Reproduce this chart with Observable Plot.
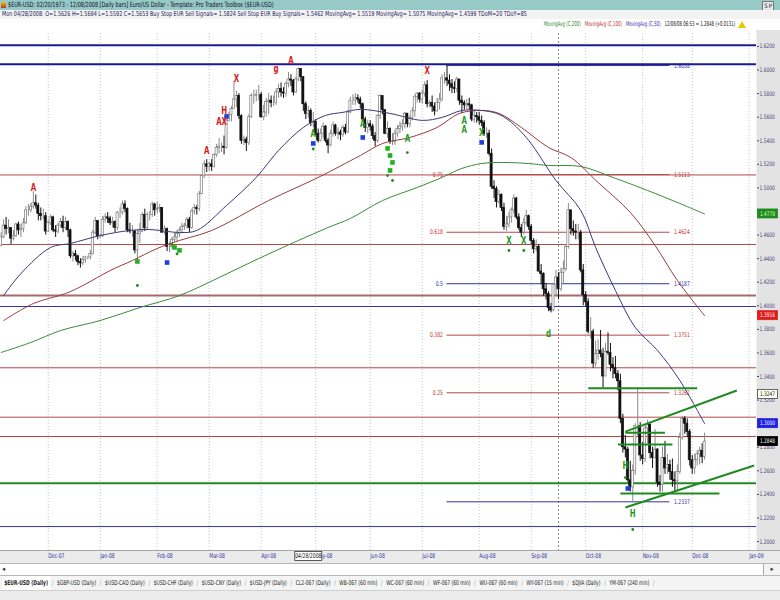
<!DOCTYPE html>
<html>
<head>
<meta charset="utf-8">
<script src="https://cdn.jsdelivr.net/npm/d3@7"></script>
<script src="https://cdn.jsdelivr.net/npm/@observablehq/plot@0.6"></script>
<style>
html,body{margin:0;padding:0;background:#efefef;}
#wrap{position:relative;width:780px;height:600px;overflow:hidden;background:#efefef;
 font-family:"Liberation Sans Narrow","Arial Narrow","DejaVu Sans Condensed",sans-serif;}
.abs{position:absolute;white-space:nowrap;overflow:hidden;}
#title{left:0;top:0;width:780px;height:10px;background:#97c9c6;}
#title .t{position:absolute;left:8px;top:0;font-size:7.2px;line-height:10px;color:#0c0c28;transform:scaleX(0.76);transform-origin:0 50%;}
#title .ic{position:absolute;left:1px;top:2px;width:5px;height:6px;background:linear-gradient(#f0c020,#c03020);}
#title .sp{position:absolute;right:6px;top:1px;font-size:6px;line-height:8px;color:#222;border:1px solid #777;padding:0 1px;background:#e8e8e8;}
#info{left:0;top:10px;width:780px;height:9px;background:#f3f3f3;}
#info .t{position:absolute;left:2px;top:0;font-size:6.8px;line-height:9px;color:#22225a;transform:scaleX(0.80);transform-origin:0 50%;}
#legend{left:0;top:19px;width:780px;height:11px;background:#fff;font-size:6.6px;line-height:11px;}
#legend .items{position:absolute;right:45px;top:0;transform:scaleX(0.66);transform-origin:100% 50%;}
#legend .tri{position:absolute;left:738px;top:2px;width:0;height:0;border-left:4px solid transparent;border-right:4px solid transparent;border-bottom:7px solid #e8c800;}
#chart{left:0;top:30px;overflow:visible;}
#scroll{left:0;top:563px;width:780px;height:13px;background:#fff;border-top:1px solid #b8b8b8;border-bottom:1px solid #b8b8b8;box-sizing:border-box;font-size:7px;line-height:11px;color:#333;}
#scroll .l{position:absolute;left:2px;top:0;}
#scroll .r{position:absolute;right:0;top:0;width:16px;height:11px;border-left:1px solid #aaa;text-align:center;background:#f4f4f4;}
#tabs{left:0;top:576px;width:780px;height:14px;background:#f4f4f4;}
#tabs .in{position:absolute;left:2px;top:0;display:flex;font-size:6.7px;line-height:14px;color:#222;transform:scaleX(0.74);transform-origin:0 50%;}
#tabs .tab{padding:0 3px 0 3px;}
#tabs .tab.on{font-weight:bold;background:#fff;}
#tabs .sep{color:#999;padding:0 2px;}
#bottom{left:0;top:590px;width:780px;height:10px;background:#ececec;border-top:1px solid #d0d0d0;box-sizing:border-box;}
</style>
</head>
<body>
<div id="wrap">
  <div id="title" class="abs"><div class="ic"></div><span class="t"></span><span class="sp">S&#8201;P</span></div>
  <div id="info" class="abs"><span class="t"></span></div>
  <div id="legend" class="abs"><span class="items"></span><div class="tri"></div></div>
  <div id="chart" class="abs"></div>
  <div id="scroll" class="abs"><span class="l">&#9666;</span><span class="r">&#9656;</span></div>
  <div id="tabs" class="abs"><div class="in"></div></div>
  <div id="bottom" class="abs"></div>
</div>
<script>
// ---------------- DATA ----------------
const titleText = "$EUR-USD:  02/20/1973 - 12/08/2008  [Daily bars]   Euro/US Dollar  -  Template: Pro Traders Toolbox ($EUR-USD)";
const infoText = "Mon 04/28/2008:  O=1.5626  H=1.5694  L=1.5592  C=1.5653  Buy Stop EUR Sell Signals= 1.5824  Sell Stop EUR Buy Signals= 1.5462  MovingAvg= 1.5519  MovingAvg= 1.5075  MovingAvg= 1.4599  TDoM=20  TDoY=85";
const legendNames = ["MovingAvg (C,200)", "MovingAvg (C,100)", "MovingAvg (C,50)", "12/08/08 06:53 = 1.2848 (+0.0131)"];
const legendKinds = ["ma200", "ma100", "ma50", "last"];
const tabNames = ["$EUR-USD (Daily)", "$GBP-USD (Daily)", "$USD-CAD (Daily)", "$USD-CHF (Daily)", "$USD-CNY (Daily)", "$USD-JPY (Daily)", "CL2-067 (Daily)", "WB-067 (60 min)", "WC-067 (60 min)", "WF-067 (60 min)", "WU-067 (60 min)", "WY-067 (15 min)", "$DJIA (Daily)", "YM-067 (240 min)"];

// daily bars, one per weekday starting 2007-11-06
const startDay = "2007-11-06";
const endDay = "2009-01-12";
const firstOpen = 1.4510;
const highs = [
  // Nov 07
  1.4620,1.4730,1.4750,1.4730,1.4660,1.4640,1.4700,1.4710,1.4690,1.4740,1.4840,1.4860,1.4870,1.4967,1.4940,1.4870,1.4830,1.4820,1.4790,
  // Dec 07
  1.4720,1.4770,1.4760,1.4680,1.4700,1.4740,1.4760,1.4750,1.4720,1.4650,1.4460,1.4470,1.4430,1.4400,1.4420,1.4420,1.4420,1.4470,1.4640,1.4750,1.4720,
  // Jan 08
  1.4610,1.4760,1.4780,1.4790,1.4760,1.4750,1.4720,1.4800,1.4830,1.4890,1.4890,1.4830,1.4700,1.4680,1.4640,1.4640,1.4700,1.4790,1.4820,1.4790,1.4800,1.4880,1.4870,
  // Feb 08
  1.4880,1.4860,1.4830,1.4680,1.4660,1.4540,1.4580,1.4620,1.4640,1.4660,1.4700,1.4700,1.4750,1.4750,1.4820,1.4860,1.4850,1.4970,1.5110,1.5230,1.5240,
  // Mar 08
  1.5220,1.5240,1.5290,1.5370,1.5420,1.5380,1.5440,1.5580,1.5640,1.5690,1.5904,1.5820,1.5800,1.5620,1.5440,1.5430,1.5620,1.5800,1.5830,1.5830,1.5870,
  // Apr 08
  1.5810,1.5700,1.5760,1.5800,1.5780,1.5780,1.5840,1.5880,1.5890,1.5850,1.5900,1.5980,1.5960,1.5920,1.5940,1.6019,1.6000,1.5940,1.5730,1.5694,1.5670,1.5640,
  // May 08
  1.5580,1.5500,1.5500,1.5550,1.5530,1.5420,1.5490,1.5560,1.5540,1.5510,1.5490,1.5530,1.5540,1.5660,1.5770,1.5790,1.5800,1.5790,1.5770,1.5720,1.5600,1.5570,
  // Jun 08
  1.5570,1.5540,1.5470,1.5620,1.5790,1.5780,1.5660,1.5560,1.5510,1.5460,1.5490,1.5530,1.5560,1.5580,1.5640,1.5630,1.5610,1.5680,1.5790,1.5810,1.5810,
  // Jul 08
  1.5830,1.5900,1.5910,1.5740,1.5780,1.5720,1.5760,1.5800,1.5960,1.5980,1.6038,1.5960,1.5920,1.5900,1.5940,1.5920,1.5780,1.5740,1.5750,1.5760,1.5710,1.5650,1.5640,
  // Aug 08
  1.5640,1.5610,1.5570,1.5510,1.5490,1.5330,1.5060,1.5010,1.4980,1.4950,1.4870,1.4760,1.4790,1.4830,1.4940,1.4920,1.4780,1.4690,1.4740,1.4810,1.4770,
  // Sep 08
  1.4690,1.4570,1.4560,1.4520,1.4350,1.4280,1.4190,1.4120,1.4020,1.4190,1.4300,1.4280,1.4320,1.4380,1.4520,1.4867,1.4800,1.4720,1.4690,1.4690,1.4640,1.4350,
  // Oct 08
  1.4120,1.4060,1.3900,1.3800,1.3700,1.3710,1.3790,1.3640,1.3680,1.3770,1.3680,1.3560,1.3570,1.3450,1.3420,1.3080,1.2900,1.2800,1.2680,1.2650,1.3000,1.3300,1.3010,
  // Nov 08
  1.2840,1.2990,1.3030,1.3000,1.2800,1.2950,1.2790,1.2560,1.2800,1.2850,1.2740,1.2690,1.2700,1.2590,1.2650,1.2920,1.3060,1.3060,1.3040,1.2950,
  // Dec 08
  1.2730,1.2740,1.2770,1.2800,1.2830,1.2920
];
const lows = [
  1.4500,1.4570,1.4600,1.4610,1.4520,1.4550,1.4580,1.4600,1.4580,1.4620,1.4690,1.4760,1.4790,1.4820,1.4820,1.4720,1.4720,1.4730,1.4600,
  1.4620,1.4680,1.4620,1.4580,1.4610,1.4660,1.4620,1.4640,1.4580,1.4400,1.4370,1.4380,1.4340,1.4320,1.4340,1.4360,1.4390,1.4390,1.4430,1.4600,1.4560,
  1.4570,1.4580,1.4700,1.4700,1.4680,1.4660,1.4620,1.4640,1.4740,1.4770,1.4790,1.4620,1.4610,1.4580,1.4440,1.4370,1.4530,1.4620,1.4630,1.4640,1.4720,1.4750,1.4760,
  1.4780,1.4790,1.4620,1.4600,1.4460,1.4450,1.4480,1.4540,1.4540,1.4580,1.4610,1.4640,1.4650,1.4620,1.4650,1.4770,1.4770,1.4800,1.4940,1.5080,1.5130,
  1.5140,1.5140,1.5170,1.5260,1.5290,1.5300,1.5280,1.5330,1.5560,1.5560,1.5680,1.5680,1.5580,1.5370,1.5360,1.5310,1.5360,1.5590,1.5710,1.5730,1.5740,
  1.5590,1.5570,1.5600,1.5620,1.5680,1.5690,1.5700,1.5760,1.5770,1.5760,1.5770,1.5850,1.5860,1.5780,1.5800,1.5900,1.5900,1.5650,1.5580,1.5592,1.5520,1.5510,
  1.5440,1.5380,1.5390,1.5420,1.5380,1.5290,1.5350,1.5430,1.5440,1.5410,1.5400,1.5430,1.5450,1.5460,1.5630,1.5700,1.5700,1.5720,1.5670,1.5560,1.5470,1.5460,
  1.5480,1.5410,1.5350,1.5380,1.5580,1.5620,1.5450,1.5420,1.5370,1.5360,1.5360,1.5430,1.5460,1.5480,1.5500,1.5510,1.5510,1.5570,1.5600,1.5720,1.5720,
  1.5710,1.5770,1.5680,1.5680,1.5640,1.5610,1.5640,1.5660,1.5730,1.5880,1.5860,1.5820,1.5800,1.5800,1.5810,1.5700,1.5630,1.5660,1.5660,1.5660,1.5560,1.5550,1.5550,
  1.5530,1.5520,1.5440,1.5420,1.5270,1.4990,1.4910,1.4830,1.4860,1.4800,1.4640,1.4630,1.4660,1.4700,1.4780,1.4730,1.4640,1.4580,1.4600,1.4680,1.4640,
  1.4520,1.4440,1.4460,1.4290,1.4180,1.4080,1.4050,1.3950,1.3940,1.3950,1.4080,1.4050,1.4120,1.4180,1.4290,1.4480,1.4600,1.4590,1.4560,1.4560,1.4280,1.4000,
  1.3990,1.3760,1.3720,1.3470,1.3480,1.3540,1.3560,1.3300,1.3400,1.3580,1.3440,1.3380,1.3380,1.3280,1.3000,1.2750,1.2710,1.2500,1.2420,1.2330,1.2560,1.2880,1.2680,
  1.2650,1.2670,1.2830,1.2700,1.2620,1.2700,1.2460,1.2420,1.2420,1.2570,1.2570,1.2520,1.2460,1.2420,1.2430,1.2570,1.2860,1.2910,1.2880,1.2640,
  1.2570,1.2570,1.2640,1.2650,1.2660,1.2690
];
const closes = [
  1.4580,1.4680,1.4650,1.4660,1.4570,1.4590,1.4690,1.4640,1.4650,1.4700,1.4810,1.4810,1.4840,1.4870,1.4850,1.4780,1.4760,1.4760,1.4630,
  1.4700,1.4750,1.4640,1.4630,1.4680,1.4710,1.4660,1.4710,1.4640,1.4420,1.4440,1.4420,1.4370,1.4360,1.4390,1.4410,1.4410,1.4440,1.4620,1.4720,1.4590,
  1.4590,1.4730,1.4750,1.4740,1.4700,1.4710,1.4660,1.4790,1.4790,1.4860,1.4820,1.4640,1.4630,1.4630,1.4470,1.4610,1.4630,1.4770,1.4660,1.4770,1.4770,1.4860,1.4810,
  1.4820,1.4830,1.4620,1.4650,1.4500,1.4500,1.4560,1.4580,1.4610,1.4640,1.4670,1.4680,1.4730,1.4660,1.4800,1.4830,1.4820,1.4950,1.5100,1.5200,1.5180,
  1.5200,1.5180,1.5280,1.5340,1.5350,1.5350,1.5340,1.5570,1.5620,1.5670,1.5750,1.5780,1.5610,1.5400,1.5410,1.5380,1.5600,1.5780,1.5780,1.5790,1.5790,
  1.5600,1.5640,1.5730,1.5740,1.5720,1.5720,1.5810,1.5840,1.5810,1.5800,1.5880,1.5920,1.5910,1.5810,1.5920,1.6010,1.5940,1.5710,1.5626,1.5653,1.5550,1.5560,
  1.5460,1.5400,1.5460,1.5520,1.5400,1.5360,1.5460,1.5530,1.5460,1.5470,1.5450,1.5510,1.5470,1.5640,1.5740,1.5740,1.5760,1.5750,1.5710,1.5580,1.5510,1.5540,
  1.5520,1.5440,1.5400,1.5610,1.5780,1.5660,1.5460,1.5500,1.5390,1.5390,1.5460,1.5500,1.5520,1.5540,1.5630,1.5540,1.5590,1.5650,1.5770,1.5800,1.5750,
  1.5800,1.5870,1.5710,1.5720,1.5690,1.5650,1.5720,1.5750,1.5930,1.5930,1.5910,1.5880,1.5850,1.5840,1.5920,1.5740,1.5720,1.5700,1.5710,1.5700,1.5580,1.5610,1.5600,
  1.5570,1.5550,1.5460,1.5460,1.5290,1.5010,1.4990,1.4880,1.4940,1.4830,1.4670,1.4690,1.4750,1.4810,1.4910,1.4750,1.4660,1.4620,1.4700,1.4760,1.4670,
  1.4550,1.4480,1.4500,1.4290,1.4270,1.4140,1.4100,1.3980,1.3960,1.4180,1.4240,1.4140,1.4280,1.4310,1.4500,1.4810,1.4650,1.4630,1.4620,1.4620,1.4300,1.4090,
  1.4030,1.3780,1.3780,1.3510,1.3590,1.3620,1.3590,1.3400,1.3610,1.3600,1.3500,1.3470,1.3420,1.3360,1.3040,1.2800,1.2780,1.2520,1.2460,1.2600,1.2980,1.2980,1.2730,
  1.2700,1.2960,1.2990,1.2750,1.2710,1.2780,1.2500,1.2480,1.2710,1.2620,1.2650,1.2590,1.2520,1.2510,1.2590,1.2880,1.3040,1.3000,1.2930,1.2690,
  1.2620,1.2690,1.2740,1.2770,1.2717,1.2848
];

// moving averages: [date, value]
const ma200 = [["2007-11-06",1.3604],["2007-11-22",1.3689],["2007-12-10",1.3790],["2008-01-01",1.3875],["2008-01-23",1.3985],["2008-02-14",1.4087],["2008-03-07",1.4240],["2008-03-31",1.4401],["2008-04-22",1.4554],["2008-05-08",1.4664],["2008-05-21",1.4741],["2008-06-09",1.4893],["2008-06-27",1.5004],["2008-07-11",1.5089],["2008-07-23",1.5165],["2008-08-04",1.5207],["2008-08-15",1.5216],["2008-08-29",1.5207],["2008-09-10",1.5190],["2008-09-29",1.5182],["2008-10-16",1.5089],["2008-11-05",1.4978],["2008-11-24",1.4868],["2008-12-08",1.4779]];
const ma100 = [["2007-11-07",1.3875],["2007-11-23",1.4019],["2007-12-12",1.4104],["2007-12-21",1.4172],["2008-01-07",1.4299],["2008-01-18",1.4384],["2008-02-01",1.4486],["2008-02-14",1.4554],["2008-03-04",1.4639],["2008-04-04",1.4893],["2008-05-02",1.5089],["2008-05-27",1.5275],["2008-06-09",1.5377],["2008-06-24",1.5428],["2008-07-09",1.5513],["2008-07-22",1.5632],["2008-08-04",1.5657],["2008-08-13",1.5632],["2008-08-26",1.5513],["2008-09-10",1.5343],["2008-09-23",1.5258],["2008-10-08",1.5046],["2008-10-27",1.4792],["2008-11-10",1.4512],["2008-11-21",1.4215],["2008-12-08",1.3916]];
const ma50 = [["2007-11-07",1.4087],["2007-11-16",1.4274],["2007-12-04",1.4495],["2007-12-14",1.4529],["2008-01-01",1.4596],["2008-01-17",1.4639],["2008-01-29",1.4647],["2008-02-14",1.4622],["2008-02-25",1.4639],["2008-03-12",1.4851],["2008-03-28",1.5089],["2008-04-10",1.5318],["2008-04-24",1.5513],["2008-05-07",1.5615],["2008-05-16",1.5641],["2008-05-27",1.5666],["2008-06-12",1.5632],["2008-07-01",1.5573],["2008-07-11",1.5598],["2008-07-23",1.5657],["2008-08-04",1.5657],["2008-08-12",1.5632],["2008-08-19",1.5573],["2008-08-29",1.5402],["2008-09-15",1.5063],["2008-09-29",1.4809],["2008-10-07",1.4495],["2008-10-17",1.4130],["2008-10-29",1.3816],["2008-11-11",1.3621],["2008-11-24",1.3366],["2008-12-08",1.3000]];

// horizontal levels across the chart
const hLevels = [1.6211, 1.6050, 1.5110, 1.4520, 1.4087, 1.3994, 1.3474, 1.3055, 1.2891, 1.2495, 1.2127];
const hKinds  = ["blueMajor","blueMajor","red","red","brown","blue","red","red","red","green","blue"];

// Fibonacci retracement (Jul 15 high to Oct 28 low)
const fibStart = "2008-07-15", fibEnd = "2008-11-18";
const fibValues = [1.6038, 1.5113, 1.4624, 1.4187, 1.3751, 1.3262, 1.2337];
const fibRatios = ["", "0.75", "0.618", "0.5", "0.382", "0.25", ""];
const fibKinds  = ["blue","red","red","blue","red","red","blue"];

// green support / resistance segments and channel
const greenSegs = [["2008-10-02","2008-12-03",1.3300],["2008-10-23","2008-11-14",1.2922],["2008-10-20","2008-11-19",1.2823],["2008-10-21","2008-12-16",1.2407]];
const channel = [["2008-10-23",1.2933,"2008-12-25",1.3281],["2008-10-23",1.2289,"2009-01-05",1.2645]];

// signal markers
const redMarks = [["2007-11-23",1.5004,"A"],["2008-02-29",1.5312,"A"],["2008-03-11",1.5657,"H"],["2008-03-10",1.5560,"AX"],["2008-03-18",1.5928,"X"],["2008-04-09",1.6013,"g"],["2008-04-17",1.6081,"A"],["2008-07-03",1.5996,"X"]];
const greenMarks = [["2008-04-30",1.5462,"A"],["2008-05-28",1.5547,"A"],["2008-06-23",1.5420,"A"],["2008-07-24",1.5573,"A"],["2008-07-24",1.5490,"A"],["2008-08-04",1.5470,"X"],["2008-08-19",1.4554,"X"],["2008-08-27",1.4554,"X"],["2008-09-10",1.3765,"d"],["2008-10-23",1.2645,"H"],["2008-10-28",1.2238,"H"]];
const greenSquares = [["2008-01-22",1.4376],["2008-02-12",1.4495],["2008-02-14",1.4470],["2008-06-11",1.5335],["2008-06-12",1.5275],["2008-06-13",1.5216],["2008-06-12",1.5148]];
const greenDots = [["2008-01-22",1.4172],["2008-02-11",1.4520],["2008-02-13",1.4440],["2008-04-30",1.5330],["2008-06-11",1.5105],["2008-06-13",1.5063],["2008-06-23",1.5300],["2008-08-19",1.4469],["2008-08-27",1.4469],["2008-10-23",1.2543],["2008-10-28",1.2102]];
const blueSquares = [["2008-02-07",1.4367],["2008-03-12",1.5606],["2008-04-30",1.5377],["2008-05-28",1.5428],["2008-08-04",1.5386],["2008-10-24",1.2450]];

// axes
const yTicks = [1.20,1.22,1.24,1.26,1.28,1.32,1.34,1.36,1.38,1.40,1.42,1.44,1.46,1.50,1.52,1.54,1.56,1.58,1.60,1.62];
const monthLabels = ["Dec-07","Jan-08","Feb-08","Mar-08","Apr-08","May-08","Jun-08","Jul-08","Aug-08","Sep-08","Oct-08","Nov-08","Dec-08","Jan-09"];
const monthStarts = ["2007-12-01","2008-01-01","2008-02-01","2008-03-01","2008-04-01","2008-05-01","2008-06-01","2008-07-01","2008-08-01","2008-09-01","2008-10-01","2008-11-01","2008-12-01","2009-01-01"];
const markerDay = "2008-09-16";
const cursorDay = "2008-04-28", cursorLabel = "04/28/2008";

// value boxes on the price axis
const boxValues = [1.4779, 1.3916, 1.3247, 1.3000, 1.2848];
const boxKinds  = ["ma200", "ma100", "signal", "ma50", "last"];

// ---------------- STYLES ----------------
const FONT = '"Liberation Sans Narrow","Arial Narrow","DejaVu Sans Condensed",sans-serif';
const NARROW = 0.78;
const lineStyle = {
  blueMajor: {c: "#1b1b8e", w: 2},
  blue: {c: "#34349a", w: 1},
  red: {c: "#b44848", w: 1},
  brown: {c: "#a86a6a", w: 2},
  green: {c: "#1f8a1f", w: 2}
};
const labelColor = {blue: "#2c2ca8", red: "#c83232"};
const boxStyle = {
  ma200: {bg: "#1f8a1f", fg: "#d8ffb0", bd: "#1f8a1f"},
  ma100: {bg: "#e01c1c", fg: "#ffffff", bd: "#e01c1c"},
  signal: {bg: "#fffff0", fg: "#111111", bd: "#444444"},
  ma50: {bg: "#2020e0", fg: "#ffffff", bd: "#2020e0"},
  last: {bg: "#000000", fg: "#ffffff", bd: "#000000"}
};
const legendColor = {ma200: "#2a8a2a", ma100: "#c03030", ma50: "#3030b0", last: "#111"};

// ---------------- HEADER / FOOTER ----------------
document.querySelector("#title .t").textContent = titleText;
document.querySelector("#info .t").textContent = infoText;
const items = document.querySelector("#legend .items");
legendNames.forEach((n, i) => {
  const s = document.createElement("span");
  s.textContent = n;
  s.style.color = legendColor[legendKinds[i]];
  s.style.marginLeft = "6px";
  items.appendChild(s);
});
const tabs = document.querySelector("#tabs .in");
tabNames.forEach((n, i) => {
  const s = document.createElement("span");
  s.className = "tab" + (i === 0 ? " on" : "");
  s.textContent = n;
  tabs.appendChild(s);
  const sep = document.createElement("span");
  sep.className = "sep"; sep.textContent = "/";
  tabs.appendChild(sep);
});

// ---------------- CHART ----------------
const days = d3.utcDays(new Date(startDay), new Date(endDay)).filter(d => d.getUTCDay() !== 0 && d.getUTCDay() !== 6);
const P = s => { const t = +new Date(s); return days.findIndex(d => +d >= t); };

const bars = closes.map((c, k) => {
  const o = k === 0 ? firstOpen : closes[k - 1];
  return {k, o, c, h: Math.max(highs[k], o, c), l: Math.min(lows[k], o, c), up: c >= o};
});
const toPts = arr => arr.map(([d, v]) => ({x: P(d), v}));
const months = monthStarts.map((d, i) => ({x: P(d), label: monthLabels[i]}));
const hRows = hLevels.map((v, i) => ({v, kind: hKinds[i]}));
const fibRows = fibValues.map((v, i) => ({v, r: fibRatios[i], kind: fibKinds[i], t: v.toFixed(4)}));
const fx1 = P(fibStart), fx2 = P(fibEnd);
const segRows = greenSegs.map(([a, b, v]) => ({x1: P(a), x2: P(b), v}));
const chRows = channel.map(([a, va, b, vb]) => ({x1: P(a), y1: va, x2: P(b), y2: vb}));
const mk = arr => arr.map(([d, v, t]) => ({x: P(d), v, t}));

const chart = Plot.plot({
  width: 780, height: 533,
  marginTop: 3, marginBottom: 13, marginLeft: 0, marginRight: 24,
  x: {type: "linear", domain: [-0.26, 304.95], axis: null},
  y: {type: "linear", domain: [1.1924, 1.631], axis: "right", ticks: yTicks, tickFormat: d => d.toFixed(4), tickSize: 2, tickPadding: 1, label: null},
  style: {background: "white", fontFamily: FONT, fontSize: "6.2px", color: "#444478", overflow: "visible"},
  marks: [
    Plot.frame({fill: "white", stroke: "none"}),
    Plot.ruleX(months, {x: "x", stroke: "#c4c4c4", strokeDasharray: "1,2"}),
    Plot.ruleX([P(markerDay)], {stroke: "#8c8c8c", strokeDasharray: "2,2"}),
    Plot.ruleY(hRows, {y: "v", stroke: d => lineStyle[d.kind].c, strokeWidth: d => lineStyle[d.kind].w}),
    Plot.ruleY(fibRows, {y: "v", x1: fx1, x2: fx2, stroke: d => lineStyle[d.kind].c, strokeWidth: 1}),
    Plot.text(fibRows.filter(d => d.r), {x: fx1, y: "v", text: "r", textAnchor: "end", dx: -4, fill: d => labelColor[d.kind], fontSize: 6.5}),
    Plot.text(fibRows, {x: fx2, y: "v", text: "t", textAnchor: "start", dx: 4, fill: d => labelColor[d.kind], fontSize: 6.5}),
    Plot.ruleX(bars, {x: "k", y1: "l", y2: "h", stroke: d => d.up ? "#8a8a8a" : "#111", strokeWidth: 1}),
    Plot.rect(bars, {x1: d => d.k - 0.42, x2: d => d.k + 0.42, y1: "o", y2: "c", fill: d => d.up ? "white" : "#111", stroke: d => d.up ? "#7c7c7c" : "#111", strokeWidth: 0.7}),
    Plot.line(toPts(ma200), {x: "x", y: "v", stroke: "#3a8a3a", strokeWidth: 1, curve: "catmull-rom"}),
    Plot.line(toPts(ma100), {x: "x", y: "v", stroke: "#9a3c3c", strokeWidth: 1, curve: "catmull-rom"}),
    Plot.line(toPts(ma50), {x: "x", y: "v", stroke: "#3a3a7a", strokeWidth: 1, curve: "catmull-rom"}),
    Plot.link(segRows, {x1: "x1", x2: "x2", y1: "v", y2: "v", stroke: "#1f8a1f", strokeWidth: 2}),
    Plot.link(chRows, {x1: "x1", x2: "x2", y1: "y1", y2: "y2", stroke: "#1f8a1f", strokeWidth: 2}),
    Plot.dot(mk(greenDots), {x: "x", y: "v", r: 1.4, fill: "#1f8a1f", stroke: "none"}),
    Plot.dot(mk(greenSquares), {x: "x", y: "v", r: 2.6, symbol: "square", fill: "#22b022", stroke: "none"}),
    Plot.dot(mk(blueSquares), {x: "x", y: "v", r: 2.6, symbol: "square", fill: "#1d3fe0", stroke: "none"}),
    Plot.text(mk(redMarks), {x: "x", y: "v", text: "t", fill: "#d41a1a", fontSize: 10, fontWeight: "bold"}),
    Plot.text(mk(greenMarks), {x: "x", y: "v", text: "t", fill: "#1f9a1f", fontSize: 10, fontWeight: "bold"}),
    Plot.text(months, {x: "x", text: "label", frameAnchor: "bottom", dy: 7, textAnchor: "start", fill: "#3636a0", fontSize: 6.5})
  ]
});
document.getElementById("chart").appendChild(chart);

// chrome drawn from the scales: axis panel, bottom band, value boxes, cursor date
const svg = d3.select(chart);
const xs = chart.scale("x"), ys = chart.scale("y");
const xr = xs.range[1], yb = ys.range[0];
const H = 533;
svg.insert("rect", ":first-child").attr("x", 0).attr("y", yb).attr("width", 780).attr("height", H - yb).attr("fill", "#ebebeb");
svg.insert("rect", ":first-child").attr("x", xr).attr("y", 0).attr("width", 780 - xr).attr("height", H).attr("fill", "#e3e3e3");
svg.append("line").attr("x1", 0).attr("x2", 780).attr("y1", yb + 0.5).attr("y2", yb + 0.5).attr("stroke", "#a8a8a8");
boxValues.forEach((v, i) => {
  const st = boxStyle[boxKinds[i]];
  const y = ys.apply(v);
  svg.append("rect").attr("x", xr + 1.5).attr("y", y - 4.5).attr("width", 20).attr("height", 9)
    .attr("fill", st.bg).attr("stroke", st.bd).attr("stroke-width", 0.8);
  svg.append("text").attr("x", xr + 11.5).attr("y", y).attr("dy", "0.35em").attr("text-anchor", "middle")
    .attr("fill", st.fg).attr("font-size", 6.2).attr("font-family", FONT).text(v.toFixed(4));
});
const cx = xs.apply(P(cursorDay));
svg.append("rect").attr("x", cx - 13).attr("y", yb + 1.5).attr("width", 27).attr("height", 9).attr("fill", "white").attr("stroke", "#333").attr("stroke-width", 0.8);
svg.append("text").attr("x", cx + 0.5).attr("y", yb + 6).attr("dy", "0.35em").attr("text-anchor", "middle").attr("fill", "#111").attr("font-size", 6.5).attr("font-family", FONT).text(cursorLabel);

// emulate the narrow screen font of the original
svg.selectAll("text").each(function () {
  const L = this.getComputedTextLength();
  if (L > 0) {
    this.setAttribute("textLength", (L * NARROW).toFixed(2));
    this.setAttribute("lengthAdjust", "spacingAndGlyphs");
  }
});

if (closes.length !== 285 || highs.length !== 285 || lows.length !== 285) {
  svg.append("text").attr("x", 300).attr("y", 300).attr("fill", "magenta").attr("font-size", 20)
    .text(`LEN ${closes.length} ${highs.length} ${lows.length}`);
}
</script>
</body>
</html>
